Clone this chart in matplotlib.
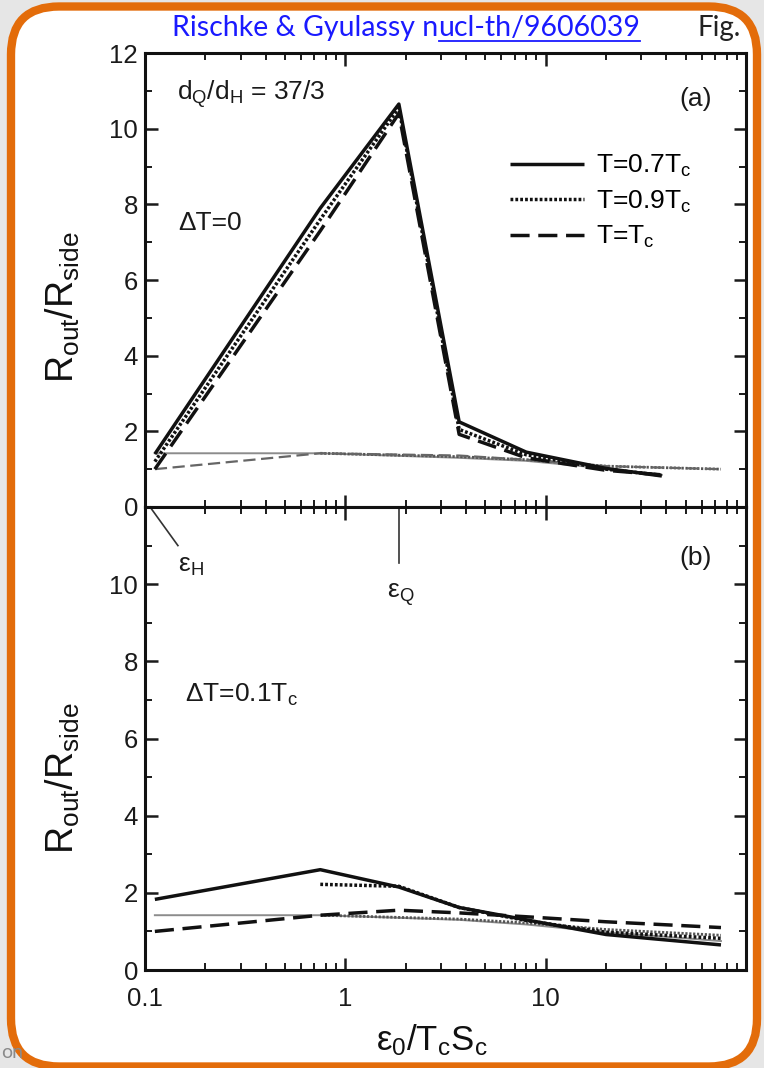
import matplotlib
matplotlib.use("Agg")
import matplotlib.pyplot as plt
from matplotlib.patches import FancyBboxPatch
from matplotlib.lines import Line2D
from matplotlib.ticker import MultipleLocator, LogLocator, NullFormatter

plt.rcParams.update({
    "font.family": ["Liberation Sans", "DejaVu Sans"],
    "mathtext.fontset": "custom",
    "mathtext.rm": "Liberation Sans",
    "mathtext.it": "Liberation Sans",
    "mathtext.bf": "Liberation Sans:bold",
    "mathtext.sf": "Liberation Sans",
})

# ---- data: R_out/R_side vs eps0/(Tc sc) ----
# panel (a): Delta T = 0, phase-transition curves
x_a = [0.112, 0.75, 1.85, 3.7, 8.0, 20.0, 38.0]
a_solid = [1.40, 7.90, 10.65, 2.25, 1.45, 1.02, 0.82]
a_dotted = [1.20, 7.60, 10.55, 2.05, 1.38, 1.00, 0.84]
a_dashed = [1.00, 7.30, 10.40, 1.92, 1.30, 0.97, 0.85]
# panel (a): lower reference curves
x_a_solid_lo = [0.112, 0.75, 3.7, 8.0, 20.0, 38.0]
a_solid_lo = [1.42, 1.42, 1.30, 1.22, 1.02, 0.85]
x_a_dotted_lo = [0.75, 3.7, 8.0, 20.0, 75.0]
a_dotted_lo = [1.42, 1.33, 1.25, 1.08, 1.00]
x_a_dashed_lo = [0.112, 0.75, 3.7, 8.0, 20.0, 75.0]
a_dashed_lo = [1.00, 1.42, 1.36, 1.25, 1.08, 1.00]

# panel (b): Delta T = 0.1 Tc
x_b = [0.112, 0.75, 1.85, 3.7, 8.0, 20.0, 75.0]
b_solid = [1.83, 2.60, 2.15, 1.62, 1.30, 0.92, 0.65]
x_b_dotted = [0.75, 1.85, 3.7, 8.0, 20.0, 75.0]
b_dotted = [2.22, 2.17, 1.62, 1.28, 0.98, 0.82]
b_dashed = [1.00, 1.42, 1.55, 1.48, 1.38, 1.25, 1.10]
x_b_solid_lo = [0.112, 0.75, 3.7, 8.0, 20.0, 75.0]
b_solid_lo = [1.42, 1.42, 1.30, 1.18, 0.98, 0.75]
x_b_dotted_lo = [0.75, 3.7, 8.0, 20.0, 75.0]
b_dotted_lo = [1.42, 1.32, 1.22, 1.05, 0.90]

eps_H = 0.106
eps_Q = 1.85

legend_labels = ["T=0.7T$_c$", "T=0.9T$_c$", "T=T$_c$"]
xtick_vals = [0.1, 1, 10, 100]
xtick_text = ["0.1", "1", "10", ""]

W, H = 764, 1068
fig = plt.figure(figsize=(W / 100, H / 100), dpi=100)
fig.patch.set_facecolor("#e6e6e6")

# slide frame
bg = fig.add_axes([0, 0, 1, 1], zorder=-5)
bg.set_xlim(0, W)
bg.set_ylim(H, 0)
bg.axis("off")
bg.text(1, 1058, "on", fontsize=14, color="#8a8a8a", family="Lato", va="baseline")
frame = FancyBboxPatch((11, 6.5), 746, 1060, boxstyle="round,pad=0,rounding_size=48",
                       facecolor="white", edgecolor="#E36C0A", linewidth=6)
bg.add_patch(frame)

t1 = bg.text(172, 36, "Rischke & Gyulassy n", fontsize=20.5, family="Lato",
             color="#1a1aff", va="baseline", ha="left")
fig.canvas.draw()
r = fig.canvas.get_renderer()
e1 = t1.get_window_extent(r)
t2 = bg.text(e1.x1, 36, "ucl-th/9606039", fontsize=20.5, family="Lato",
             color="#1a1aff", va="baseline", ha="left")
fig.canvas.draw()
e2 = t2.get_window_extent(r)
bg.plot([e2.x0 + 1, e2.x1], [41, 41], color="#1a1aff", lw=1.3)
bg.text(698, 36, "Fig.", fontsize=20, family="Lato", color="#222222", va="baseline")

L = 145 / W
AW = 601 / W
ax_a = fig.add_axes([L, (H - 507) / H, AW, 454 / H])
ax_b = fig.add_axes([L, (H - 970) / H, AW, 463 / H])

thick = dict(color="#111111", lw=2.5, solid_capstyle="butt")
dot_ls = (0, (0.8, 0.6))
dash_ls = (0, (5.5, 2.5))

# panel (a)
ax_a.plot(x_a_solid_lo, a_solid_lo, color="#8c8c8c", lw=1.4, zorder=2)
ax_a.plot(x_a_dotted_lo, a_dotted_lo, color="#555555", lw=2.0, ls=dot_ls, zorder=2)
ax_a.plot(x_a_dashed_lo, a_dashed_lo, color="#666666", lw=1.6, ls=dash_ls, zorder=2)
ax_a.plot(x_a, a_dashed, ls=dash_ls, zorder=3, **thick)
ax_a.plot(x_a, a_dotted, ls=dot_ls, zorder=3, **thick)
ax_a.plot(x_a, a_solid, ls="-", zorder=4, **thick)

# panel (b)
ax_b.plot(x_b_solid_lo, b_solid_lo, color="#8c8c8c", lw=1.4, zorder=2)
ax_b.plot(x_b_dotted_lo, b_dotted_lo, color="#555555", lw=2.0, ls=dot_ls, zorder=2)
ax_b.plot(x_b, b_dashed, ls=dash_ls, zorder=3, **thick)
ax_b.plot(x_b_dotted, b_dotted, ls=dot_ls, zorder=3, **thick)
ax_b.plot(x_b, b_solid, ls="-", zorder=4, **thick)

for ax in (ax_a, ax_b):
    ax.set_xscale("log")
    ax.set_xlim(0.1, 100)
    ax.set_ylim(0, 12)
    ax.xaxis.set_major_locator(LogLocator(base=10, numticks=10))
    ax.xaxis.set_minor_locator(LogLocator(base=10, subs=range(2, 10), numticks=20))
    ax.xaxis.set_minor_formatter(NullFormatter())
    ax.yaxis.set_major_locator(MultipleLocator(2))
    ax.yaxis.set_minor_locator(MultipleLocator(1))
    ax.tick_params(which="both", direction="in", top=True, right=True,
                   labelsize=18.5, colors="#1a1a1a")
    ax.tick_params(which="major", length=9, width=1.8)
    ax.tick_params(which="minor", length=5, width=1.4)
    ax.tick_params(axis="y", pad=5)
    for s in ax.spines.values():
        s.set_linewidth(2.2)
        s.set_color("#111111")

ax_a.tick_params(axis="x", labelbottom=False)
ax_b.set_yticks([0, 2, 4, 6, 8, 10, 12])
ax_b.set_yticklabels(["0", "2", "4", "6", "8", "10", ""])
ax_b.set_xticks(xtick_vals)
ax_b.set_xticklabels(xtick_text)
ax_b.tick_params(axis="x", pad=12)

# legend
handles = [Line2D([], [], ls="-", **thick),
           Line2D([], [], ls=dot_ls, **thick),
           Line2D([], [], ls=dash_ls, **thick)]
ax_a.legend(handles, legend_labels, loc="upper left", bbox_to_anchor=(0.607, 0.78),
            frameon=False, fontsize=19, handlelength=2.8, handletextpad=0.45,
            labelspacing=0.36, borderpad=0, borderaxespad=0)

txt = dict(fontsize=19, color="#1a1a1a")
ax_a.text(0.053, 0.896, "d$_Q$/d$_H$ = 37/3", transform=ax_a.transAxes,
          va="baseline", **txt)
ax_a.text(0.943, 0.883, "(a)", transform=ax_a.transAxes, ha="right", va="baseline", **txt)
ax_a.text(0.055, 0.61, "\u0394T=0", transform=ax_a.transAxes, va="baseline", **txt)

ax_b.text(0.943, 0.875, "(b)", transform=ax_b.transAxes, ha="right", va="baseline", **txt)
ax_b.text(0.067, 0.579, "\u0394T=0.1T$_c$", transform=ax_b.transAxes,
          va="baseline", **txt)

# phase-boundary markers
ax_b.plot([eps_H, 0.146], [12, 11.0], color="#333333", lw=1.2, clip_on=False)
ax_b.text(0.17, 10.47, "\u03b5$_H$", ha="center", va="center", **txt)
ax_b.plot([eps_Q, eps_Q], [12, 10.55], color="#333333", lw=1.2)
ax_b.text(1.9, 9.74, "\u03b5$_Q$", ha="center", va="center", **txt)

ylab = "R$_{out}$/R$_{side}$"
fig.text(63 / W, 1 - 307 / H, ylab, rotation=90, ha="center", va="center",
         fontsize=27, color="#111111")
fig.text(63 / W, 1 - 778 / H, ylab, rotation=90, ha="center", va="center",
         fontsize=27, color="#111111")
fig.text(432 / W, 1 - 1040 / H, "\u03b5$_0$/T$_c$S$_c$", ha="center",
         va="center", fontsize=25, color="#111111")

fig.savefig("out.png", dpi=100, facecolor=fig.get_facecolor())
